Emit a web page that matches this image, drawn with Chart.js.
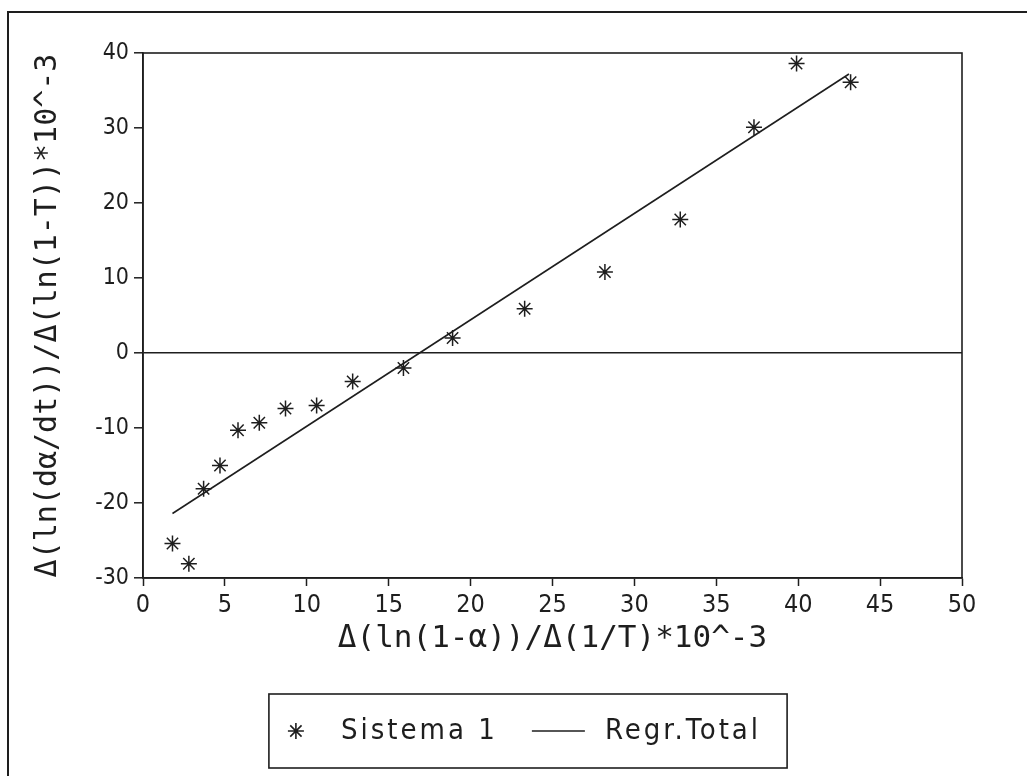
<!DOCTYPE html>
<html>
<head>
<meta charset="utf-8">
<title>Sistema 1</title>
<script src="https://cdn.jsdelivr.net/npm/chart.js@4/dist/chart.umd.min.js"></script>
<style>
  html, body { margin: 0; padding: 0; background: #fff; }
  #chart { display: block; }
</style>
</head>
<body>
<canvas id="chart" width="1027" height="776"></canvas>
<script>
// values
const sistemaX = [1.8, 2.8, 3.7, 4.7, 5.8, 7.1, 8.7, 10.6, 12.8, 15.9, 18.9, 23.3, 28.2, 32.8, 37.3, 39.9, 43.2];
const sistemaY = [-25.4, -28.1, -18.1, -15.0, -10.3, -9.3, -7.4, -7.0, -3.8, -2.0, 2.0, 5.9, 10.8, 17.8, 30.1, 38.6, 36.1];
const regrX = [1.8, 43.1];
const regrY = [-21.4, 37.2];
const seriesNames = ['Sistema 1', 'Regr.Total'];
const xTitle = 'Δ(ln(1-α))/Δ(1/T)*10^-3';
const yTitle = 'Δ(ln(dα/dt))/Δ(ln(1-T))*10^-3';

const ink = '#1e1e1e';
const narrow = "'Liberation Sans Narrow', 'DejaVu Sans Condensed', 'Roboto Condensed', 'Liberation Sans', sans-serif";
const mono = "'DejaVu Sans Mono', 'Liberation Mono', monospace";

function toPoints(xs, ys) {
    return xs.map((x, i) => ({ x: x, y: ys[i] }));
}

// page frame, plot box and the boxed legend
const framePlugin = {
    id: 'framePlugin',
    afterDraw(chart) {
        const c = chart.ctx;
        const a = chart.chartArea;
        c.save();
        c.strokeStyle = ink;

        c.lineWidth = 2;
        c.beginPath();
        c.moveTo(8, chart.height);
        c.lineTo(8, 12);
        c.lineTo(chart.width, 12);
        c.stroke();

        c.lineWidth = 1.6;
        c.strokeRect(a.left, a.top, a.right - a.left, a.bottom - a.top);

        // legend
        const ds = chart.data.datasets;
        c.font = '29px ' + narrow;
        c.letterSpacing = '3px';
        c.fillStyle = ink;
        c.textBaseline = 'middle';
        const cy = 731;
        const starW = 18, lineW = 53, gap1 = 36, gap2 = 34, gap3 = 20, padL = 18, padR = 26;
        const w1 = c.measureText(ds[0].label).width;
        const w2 = c.measureText(ds[1].label).width;
        const total = starW + gap1 + w1 + gap2 + lineW + gap3 + w2;
        let x = 524 - total / 2;

        c.strokeRect(x - padL, cy - 37, total + padL + padR, 74);

        Chart.helpers.drawPoint(c, { pointStyle: 'star', radius: 8, borderWidth: 1.5 }, x + starW / 2, cy);
        x += starW + gap1;
        c.fillText(ds[0].label, x, cy);
        x += w1 + gap2;
        c.lineWidth = 1.6;
        c.beginPath();
        c.moveTo(x, cy);
        c.lineTo(x + lineW, cy);
        c.stroke();
        x += lineW + gap3;
        c.fillText(ds[1].label, x, cy);
        c.restore();
    }
};

const ctx = document.getElementById('chart').getContext('2d');

new Chart(ctx, {
    type: 'scatter',
    data: {
        datasets: [{
            label: seriesNames[0],
            data: toPoints(sistemaX, sistemaY),
            pointStyle: 'star',
            pointRadius: 8,
            borderColor: ink,
            backgroundColor: ink,
            borderWidth: 1.5,
            showLine: false
        }, {
            type: 'line',
            label: seriesNames[1],
            data: toPoints(regrX, regrY),
            borderColor: ink,
            borderWidth: 1.6,
            pointRadius: 0,
            fill: false
        }]
    },
    options: {
        responsive: false,
        animation: false,
        layout: {
            padding: { left: 8, right: 65, top: 53, bottom: 103 }
        },
        scales: {
            x: {
                type: 'linear',
                min: 0,
                max: 50,
                afterFit(scale) { scale.height = 95; },
                ticks: {
                    stepSize: 5,
                    color: ink,
                    padding: 4,
                    font: { family: narrow, size: 25 }
                },
                grid: {
                    drawOnChartArea: false,
                    tickLength: 8,
                    tickColor: ink,
                    tickWidth: 1.5
                },
                border: { color: ink, width: 1.6 },
                title: {
                    display: true,
                    text: xTitle,
                    color: ink,
                    padding: { bottom: 15 },
                    font: { family: mono, size: 31 }
                }
            },
            y: {
                min: -30,
                max: 40,
                afterFit(scale) { scale.width = 135; },
                ticks: {
                    stepSize: 10,
                    color: ink,
                    padding: 5,
                    font: { family: narrow, size: 23 }
                },
                grid: {
                    color: c => c.tick && c.tick.value === 0 ? ink : 'rgba(0,0,0,0)',
                    lineWidth: 1.6,
                    tickLength: 9,
                    tickColor: ink,
                    tickWidth: 1.5
                },
                border: { color: ink, width: 1.6 },
                title: {
                    display: true,
                    text: yTitle,
                    color: ink,
                    padding: { top: 22 },
                    font: { family: mono, size: 30 }
                }
            }
        },
        plugins: {
            legend: { display: false },
            tooltip: { enabled: false }
        }
    },
    plugins: [framePlugin]
});
</script>
</body>
</html>
